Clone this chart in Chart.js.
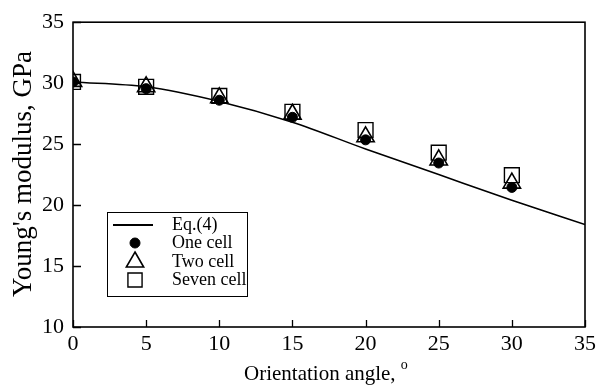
<!DOCTYPE html>
<html>
<head>
<meta charset="utf-8">
<script src="https://cdn.jsdelivr.net/npm/chart.js@4/dist/chart.umd.min.js"></script>
<style>
html, body { margin: 0; padding: 0; background: #fff; }
canvas { display: block; }
</style>
</head>
<body>
<canvas id="chart" width="600" height="387"></canvas>
<script>
// orientation angle (deg) and Young's modulus (GPa)
const angles = [0, 5, 10, 15, 20, 25, 30];
const eqAngles = [0, 5, 10, 15, 20, 25, 30, 35];
const eqModulus = [30.1, 29.7, 28.5, 26.8, 24.6, 22.5, 20.4, 18.4];
const oneCell = [30.1, 29.55, 28.6, 27.2, 25.35, 23.45, 21.45];
const twoCell = [30.15, 29.7, 28.8, 27.45, 25.6, 23.7, 21.8];
const sevenCell = [30.1, 29.7, 28.95, 27.65, 26.15, 24.3, 22.45];
const seriesNames = ["Eq.(4)", "One cell", "Two cell", "Seven cell"];
const xTitle = "Orientation angle, ";
const yTitle = "Young's modulus, GPa";

const serif = "'Liberation Serif', 'Times New Roman', serif";

const pts = (xs, ys) => xs.map((x, i) => ({ x: x, y: ys[i] }));

// frame, inward ticks, axis titles and boxed legend
const decor = {
    id: "decor",
    afterDraw(chart) {
        const c = chart.ctx;
        const a = chart.chartArea;
        const xs = chart.scales.x, ys = chart.scales.y;
        c.save();
        c.strokeStyle = "#000";
        c.lineWidth = 1.6;
        c.strokeRect(a.left, a.top, a.right - a.left, a.bottom - a.top);

        c.beginPath();
        xs.ticks.forEach(t => {
            const px = Math.round(xs.getPixelForValue(t.value)) + 0.5;
            c.moveTo(px, a.bottom);
            c.lineTo(px, a.bottom - 7);
        });
        ys.ticks.forEach(t => {
            const py = Math.round(ys.getPixelForValue(t.value)) + 0.5;
            c.moveTo(a.left, py);
            c.lineTo(a.left + 8, py);
        });
        c.lineWidth = 1.3;
        c.stroke();

        // axis titles
        c.fillStyle = "#000";
        c.font = "21px " + serif;
        c.textBaseline = "alphabetic";
        c.textAlign = "left";
        const w = c.measureText(xTitle).width;
        const x0 = 244;
        c.fillText(xTitle, x0, 380);
        c.font = "14px " + serif;
        c.fillText("o", x0 + w, 369);

        c.save();
        c.translate(31, 174);
        c.rotate(-Math.PI / 2);
        c.textAlign = "center";
        c.font = "27px " + serif;
        c.fillText(yTitle, 0, 0);
        c.restore();

        // legend box
        const bx = 107.5, by = 212.5, bw = 140, bh = 84;
        c.lineWidth = 1;
        c.strokeRect(bx, by, bw, bh);
        c.font = "18px " + serif;
        c.textAlign = "left";
        c.textBaseline = "middle";
        const rows = [225, 243, 262, 280];
        chart.data.datasets.forEach((ds, i) => {
            const ry = rows[i];
            if (ds.type === "line") {
                c.beginPath();
                c.lineWidth = 1.8;
                c.moveTo(113, ry);
                c.lineTo(153, ry);
                c.stroke();
            } else {
                c.lineWidth = ds.borderWidth;
                c.strokeStyle = ds.borderColor;
                c.fillStyle = ds.backgroundColor;
                Chart.helpers.drawPoint(c, {
                    pointStyle: ds.pointStyle,
                    radius: ds.legendRadius,
                    borderWidth: ds.borderWidth,
                    rotation: 0
                }, 135, ry);
                c.fillStyle = "#000";
                c.strokeStyle = "#000";
            }
            c.fillText(seriesNames[i], 172, ry);
        });
        c.restore();
    }
};

const chart = new Chart(document.getElementById("chart"), {
    type: "scatter",
    data: {
        datasets: [
            {
                type: "line",
                label: seriesNames[0],
                data: pts(eqAngles, eqModulus),
                borderColor: "#000",
                borderWidth: 1.6,
                pointRadius: 0,
                cubicInterpolationMode: "monotone",
                fill: false,
                order: 3
            },
            {
                label: seriesNames[1],
                data: pts(angles, oneCell),
                pointStyle: "circle",
                pointRadius: 5,
                legendRadius: 5,
                backgroundColor: "#000",
                borderColor: "#000",
                borderWidth: 1,
                order: 0
            },
            {
                label: seriesNames[2],
                data: pts(angles, twoCell),
                pointStyle: "triangle",
                pointRadius: 10,
                legendRadius: 10,
                backgroundColor: "rgba(0,0,0,0)",
                borderColor: "#000",
                borderWidth: 1.6,
                order: 1
            },
            {
                label: seriesNames[3],
                data: pts(angles, sevenCell),
                pointStyle: "rect",
                pointRadius: 10.5,
                legendRadius: 10,
                backgroundColor: "rgba(0,0,0,0)",
                borderColor: "#000",
                borderWidth: 1.4,
                order: 2
            }
        ]
    },
    options: {
        responsive: false,
        animation: false,
        layout: { padding: { top: 21, right: 14, left: 0, bottom: 0 } },
        plugins: {
            legend: { display: false },
            tooltip: { enabled: false }
        },
        scales: {
            x: {
                type: "linear",
                min: 0,
                max: 35,
                ticks: {
                    stepSize: 5,
                    padding: 4,
                    color: "#000",
                    font: { family: serif, size: 22 }
                },
                grid: { display: false, drawTicks: false },
                border: { display: false },
                afterFit(s) { s.height = 60; }
            },
            y: {
                type: "linear",
                min: 10,
                max: 35,
                ticks: {
                    stepSize: 5,
                    padding: 9,
                    color: "#000",
                    font: { family: serif, size: 22 }
                },
                grid: { display: false, drawTicks: false },
                border: { display: false },
                afterFit(s) { s.width = 73; }
            }
        }
    },
    plugins: [decor]
});
</script>
</body>
</html>
